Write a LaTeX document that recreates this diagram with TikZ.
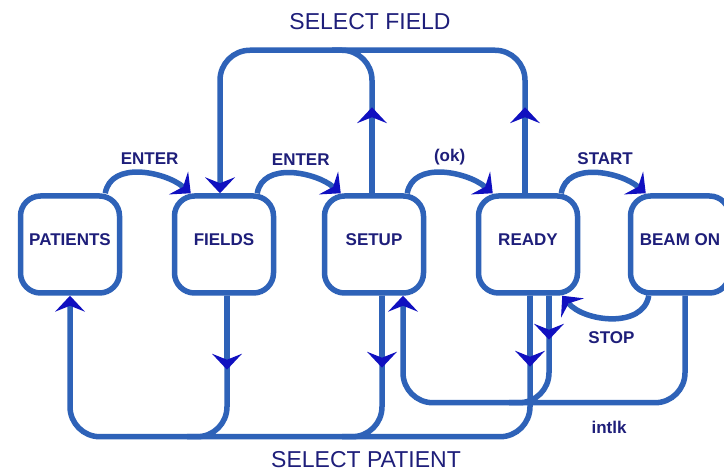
\documentclass[tikz,border=0pt]{standalone}
\usepackage{fontspec}
\setmainfont{Liberation Sans}
\usetikzlibrary{arrows.meta}
\definecolor{linkblue}{RGB}{46,98,184}
\definecolor{tipblue}{RGB}{16,16,192}
\definecolor{textblue}{RGB}{30,30,122}
\begin{document}
\begin{tikzpicture}[x=1pt,y=1pt,
  state/.style={draw=linkblue,line width=5.5pt,rounded corners=20pt,minimum width=99pt,minimum height=97pt,text depth=10pt,text=textblue,font=\fontsize{17}{20}\selectfont\bfseries},
  link/.style={draw=linkblue,line width=5.5pt,rounded corners=30pt},
  tip/.style={-{Stealth[length=16pt,width=30pt,inset=6pt,line width=0pt,color=tipblue]}},
  lbl/.style={text=textblue,font=\fontsize{17}{20}\selectfont\bfseries},
  big/.style={text=textblue,font=\fontsize{23}{28}\selectfont}]
\useasboundingbox (0,0) rectangle (724,473);
\fill[white] (0,0) rectangle (724,473);
% states
\node[state] (patients) at (70,228.5) {PATIENTS};
\node[state] (fields) at (224,228.5) {FIELDS};
\node[state] (setup) at (374,228.5) {SETUP};
\node[state] (ready) at (528,228.5) {READY};
\node[state] (beamon) at (680,228.5) {BEAM ON};
% forward arcs
\draw[link,tip] ([xshift=-17pt]patients.north east) to[out=80,in=140] node[lbl,above=2pt,xshift=9pt] {ENTER} ([xshift=19pt]fields.north west);
\draw[link,tip] ([xshift=-19pt]fields.north east) to[out=80,in=140] node[lbl,above=2pt,xshift=9pt] {ENTER} ([xshift=19pt]setup.north west);
\draw[link,tip] ([xshift=-19pt]setup.north east) to[out=80,in=140] node[lbl,above=2pt,xshift=7pt] {(ok)} ([xshift=17pt]ready.north west);
\draw[link,tip] ([xshift=-19pt]ready.north east) to[out=80,in=140] node[lbl,above=2pt,xshift=9pt] {START} ([xshift=18pt]beamon.north west);
\draw[link,tip] ([xshift=21pt]beamon.south west) to[out=-100,in=-50] node[lbl,below=8pt] {STOP} ([xshift=-18pt]ready.south east);
% select field
\draw[link,tip] ([xshift=-3pt]ready.north) -- ++(0,143) -| ([xshift=-4pt]fields.north);
\draw[link] ([xshift=-2pt]setup.north) -- ++(0,143) -- ++(-40,0);
\draw[link,tip] ([xshift=-2pt]setup.north) -- ++(0,86);
\draw[link,tip] ([xshift=-3pt]ready.north) -- ++(0,86);
\node[big] (selfield) at (370,451) {SELECT FIELD};
% select patient
\draw[link,tip] ([xshift=2pt]ready.south) -- ++(0,-141) -| (patients.south);
\draw[link] ([xshift=3pt]fields.south) -- ++(0,-141) -- ++(-40,0);
\draw[link] ([xshift=8pt]setup.south) -- ++(0,-141) -- ++(-40,0);
\draw[link,tip] ([xshift=3pt]fields.south) -- ++(0,-74);
\draw[link,tip] ([xshift=8pt]setup.south) -- ++(0,-72);
\draw[link,tip] ([xshift=2pt]ready.south) -- ++(0,-71);
\node[big] (selpatient) at (366,13) {SELECT PATIENT};
% interlock
\draw[link,tip] ([xshift=5pt]beamon.south) -- ++(0,-107) -| ([xshift=29pt]setup.south);
\draw[link] ([xshift=21pt]ready.south) -- ++(0,-107) -- ++(-40,0);
\draw[link,tip] ([xshift=21pt]ready.south) -- ++(0,-44);
\node[lbl] (intlk) at (609,46) {intlk};
\end{tikzpicture}
\end{document}
